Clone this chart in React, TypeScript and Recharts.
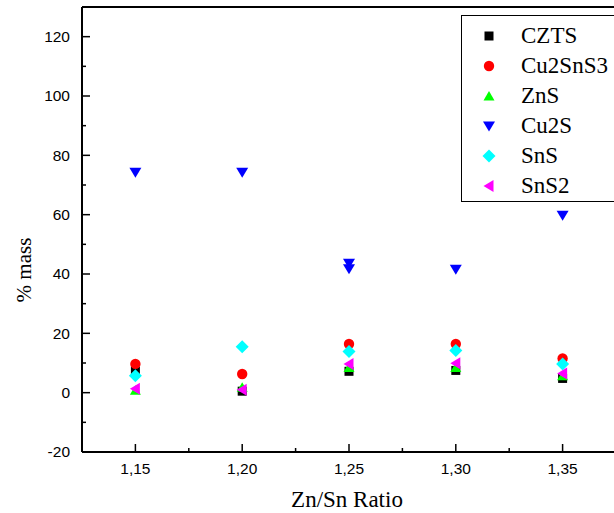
import { ScatterChart, Scatter, XAxis, YAxis, Legend } from "recharts";

// Zn/Sn ratios of the samples
const ratios = [1.15, 1.2, 1.25, 1.3, 1.35];

// phase content, % mass
const czts = [7.3, 0.5, 7.2, 7.5, 4.8];
const cu2sns3 = [9.7, 6.3, 16.4, 16.4, 11.5];
const zns = [0.8, 1.8, 8.5, 8.5, 5.7];
const sns = [5.7, 15.5, 13.9, 14.2, 9.7];
const sns2 = [1.3, 1.0, 9.7, 9.9, 6.5];

// Cu2S has two readings at 1,25
const cu2sRatios = [1.15, 1.2, 1.25, 1.25, 1.3, 1.35];
const cu2s = [74.3, 74.3, 43.6, 41.8, 41.6, 59.8];

const xMajor = [1.15, 1.2, 1.25, 1.3, 1.35];
const xMinor = [1.175, 1.225, 1.275, 1.325];
const yMajor = [-20, 0, 20, 40, 60, 80, 100, 120];
const yMinor = [-10, 10, 30, 50, 70, 90, 110];

type Kind = "square" | "circle" | "up" | "down" | "diamond" | "left";

const series: { name: string; color: string; kind: Kind; xs: number[]; ys: number[] }[] = [
  { name: "CZTS", color: "#000000", kind: "square", xs: ratios, ys: czts },
  { name: "Cu2SnS3", color: "#ff0000", kind: "circle", xs: ratios, ys: cu2sns3 },
  { name: "ZnS", color: "#00ff00", kind: "up", xs: ratios, ys: zns },
  { name: "Cu2S", color: "#0000ff", kind: "down", xs: cu2sRatios, ys: cu2s },
  { name: "SnS", color: "#00ffff", kind: "diamond", xs: ratios, ys: sns },
  { name: "SnS2", color: "#ff00ff", kind: "left", xs: ratios, ys: sns2 },
];

const sansFont = "'Liberation Sans', Arial, sans-serif";
const serifFont = "'Liberation Serif', 'Times New Roman', serif";

function Marker({ kind, color, cx, cy }: { kind: Kind; color: string; cx: number; cy: number }) {
  switch (kind) {
    case "square":
      return <rect x={cx - 4.5} y={cy - 4.5} width={9} height={9} fill={color} />;
    case "circle":
      return <circle cx={cx} cy={cy} r={5.2} fill={color} />;
    case "up":
      return <polygon points={`${cx},${cy - 5} ${cx + 5.5},${cy + 4.5} ${cx - 5.5},${cy + 4.5}`} fill={color} />;
    case "down":
      return <polygon points={`${cx - 6},${cy - 4.5} ${cx + 6},${cy - 4.5} ${cx},${cy + 5.5}`} fill={color} />;
    case "diamond":
      return <polygon points={`${cx},${cy - 6.5} ${cx + 6.5},${cy} ${cx},${cy + 6.5} ${cx - 6.5},${cy}`} fill={color} />;
    case "left":
      return <polygon points={`${cx - 5.5},${cy} ${cx + 4.5},${cy - 6} ${cx + 4.5},${cy + 6}`} fill={color} />;
  }
}

const fmt = (v: number) => v.toFixed(2).replace(".", ",");

function XTick(props: any) {
  const { x, y, payload } = props;
  const major = xMajor.some((m) => Math.abs(m - payload.value) < 1e-6);
  return (
    <g>
      <line x1={x} x2={x} y1={y} y2={y - (major ? 8 : 4)} stroke="#000" strokeWidth={1.5} />
      {major && (
        <text x={x} y={y + 17} dy="0.35em" textAnchor="middle" fontSize={15.5} fontFamily={sansFont} fill="#000">
          {fmt(payload.value)}
        </text>
      )}
    </g>
  );
}

function YTick(props: any) {
  const { x, y, payload } = props;
  const major = yMajor.includes(payload.value);
  return (
    <g>
      <line x1={x} x2={x + (major ? 8 : 4)} y1={y} y2={y} stroke="#000" strokeWidth={1.5} />
      {major && (
        <text x={x - 12} y={y} dy="0.35em" textAnchor="end" fontSize={15.5} fontFamily={sansFont} fill="#000">
          {payload.value}
        </text>
      )}
    </g>
  );
}

function LegendBox() {
  return (
    <div
      style={{
        border: "1px solid #000",
        width: 170,
        height: 187,
        background: "#fff",
        boxSizing: "border-box",
        position: "relative",
      }}
    >
      {series.map((s, i) => (
        <div key={s.name} style={{ position: "absolute", left: 0, top: 5 + i * 30, height: 30, display: "flex", alignItems: "center" }}>
          <svg width={54} height={30} style={{ display: "block" }}>
            <Marker kind={s.kind} color={s.color} cx={27} cy={15} />
          </svg>
          <span style={{ fontFamily: serifFont, fontSize: 23, lineHeight: "30px", color: "#000", marginLeft: 5 }}>{s.name}</span>
        </div>
      ))}
    </div>
  );
}

const frame = { stroke: "#000", strokeWidth: 2 };

export default function App() {
  return (
    <div style={{ position: "absolute", left: 0, top: 0, width: 614, height: 513, overflow: "hidden", background: "#fff" }}>
      <ScatterChart width={620} height={513} margin={{ top: 6, right: 3, bottom: 31, left: 22 }}>
        <XAxis
          xAxisId="bottom"
          type="number"
          dataKey="x"
          domain={[1.125, 1.375]}
          ticks={[...xMajor, ...xMinor].sort((a, b) => a - b)}
          interval={0}
          height={30}
          tickSize={0}
          tickMargin={0}
          tickLine={false}
          tick={<XTick />}
          axisLine={frame}
          allowDataOverflow
        />
        <XAxis xAxisId="top" orientation="top" type="number" dataKey="x" domain={[1.125, 1.375]} height={1} tick={false} tickLine={false} axisLine={frame} />
        <YAxis
          yAxisId="left"
          type="number"
          dataKey="y"
          domain={[-20, 130]}
          ticks={[...yMajor, ...yMinor].sort((a, b) => a - b)}
          interval={0}
          width={60}
          tickSize={0}
          tickMargin={0}
          tickLine={false}
          tick={<YTick />}
          axisLine={frame}
          allowDataOverflow
        />
        <YAxis yAxisId="right" orientation="right" type="number" dataKey="y" domain={[-20, 130]} width={1} tick={false} tickLine={false} axisLine={frame} />
        <Legend
          layout="horizontal"
          verticalAlign="middle"
          align="center"
          content={() => <LegendBox />}
          wrapperStyle={{ left: 461, top: 15, width: 170, height: 187 }}
        />
        {series.map((s) => (
          <Scatter
            key={s.name}
            name={s.name}
            xAxisId="bottom"
            yAxisId="left"
            data={s.xs.map((x, i) => ({ x, y: s.ys[i] }))}
            isAnimationActive={false}
            shape={(p: any) => <Marker kind={s.kind} color={s.color} cx={p.cx} cy={p.cy} />}
          />
        ))}
      </ScatterChart>
      <div
        style={{
          position: "absolute",
          left: 24,
          top: 270,
          transform: "translate(-50%, -50%) rotate(-90deg)",
          fontFamily: serifFont,
          fontSize: 21,
          whiteSpace: "nowrap",
        }}
      >
        % mass
      </div>
      <div
        style={{
          position: "absolute",
          left: 347,
          top: 500,
          transform: "translate(-50%, -50%)",
          fontFamily: serifFont,
          fontSize: 23,
          whiteSpace: "nowrap",
        }}
      >
        Zn/Sn Ratio
      </div>
    </div>
  );
}
